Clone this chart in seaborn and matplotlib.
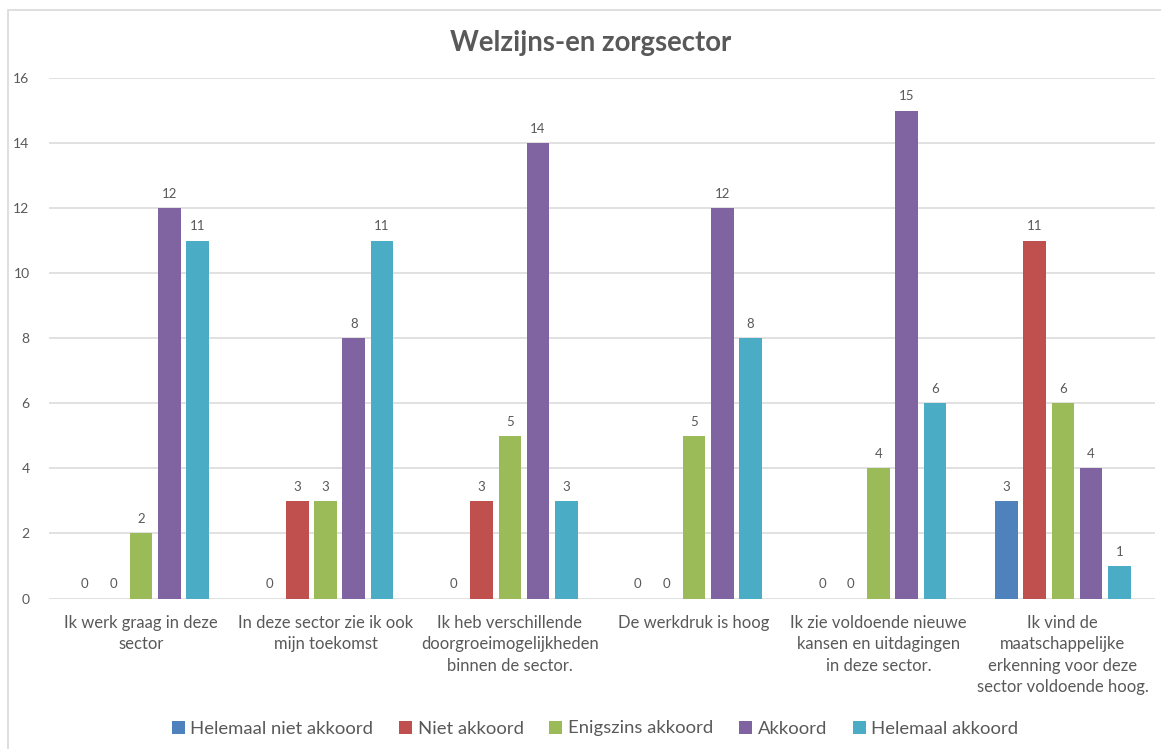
import matplotlib
matplotlib.use("Agg")
import matplotlib.pyplot as plt
import seaborn as sns
import pandas as pd
from matplotlib.patches import Rectangle

categories = [
    "Ik werk graag in deze sector",
    "In deze sector zie ik ook mijn toekomst",
    "Ik heb verschillende doorgroeimogelijkheden binnen de sector.",
    "De werkdruk is hoog",
    "Ik zie voldoende nieuwe kansen en uitdagingen in deze sector.",
    "Ik vind de maatschappelijke erkenning voor deze sector voldoende hoog.",
]
tick_labels = [
    "Ik werk graag in deze\nsector",
    "In deze sector zie ik ook\nmijn toekomst",
    "Ik heb verschillende\ndoorgroeimogelijkheden\nbinnen de sector.",
    "De werkdruk is hoog",
    "Ik zie voldoende nieuwe\nkansen en uitdagingen\nin deze sector.",
    "Ik vind de\nmaatschappelijke\nerkenning voor deze\nsector voldoende hoog.",
]
series_names = ["Helemaal niet akkoord", "Niet akkoord", "Enigszins akkoord",
                "Akkoord", "Helemaal akkoord"]
helemaal_niet_akkoord = [0, 0, 0, 0, 0, 3]
niet_akkoord = [0, 3, 3, 0, 0, 11]
enigszins_akkoord = [2, 3, 5, 5, 4, 6]
akkoord = [12, 8, 14, 12, 15, 4]
helemaal_akkoord = [11, 11, 3, 8, 6, 1]
y_ticks = [0, 2, 4, 6, 8, 10, 12, 14, 16]
title = "Welzijns-en zorgsector"

colors = ["#4F81BD", "#C0504D", "#9BBB59", "#8064A2", "#4BACC6"]

series_values = [helemaal_niet_akkoord, niet_akkoord, enigszins_akkoord,
                 akkoord, helemaal_akkoord]
rows = []
for name, vals in zip(series_names, series_values):
    for cat, v in zip(categories, vals):
        rows.append({"categorie": cat, "antwoord": name, "aantal": v})
df = pd.DataFrame(rows)

sns.set_theme(style="white")
plt.rcParams["font.family"] = ["Lato", "DejaVu Sans"]

W, H = 1161, 749
fig = plt.figure(figsize=(W / 100, H / 100), dpi=100)
ax = fig.add_axes([49 / W, 1 - 598.5 / H, (1155 - 49) / W, (598.5 - 78) / H])

sns.barplot(data=df, x="categorie", y="aantal", hue="antwoord",
            order=categories, hue_order=series_names, palette=colors,
            width=0.765, gap=0.2, ax=ax, legend=True, linewidth=0,
            saturation=1)

text_color = "#595959"
for cont in ax.containers:
    ax.bar_label(cont, fmt="%d", padding=6, fontsize=9.5, color=text_color)

ax.set_ylim(0, 16)
ax.set_yticks(y_ticks)
ax.set_xlim(-0.5, len(categories) - 0.5)
ax.grid(axis="y", color="#D9D9D9", linewidth=1.1)
ax.set_axisbelow(True)
for s in ax.spines.values():
    s.set_visible(False)
ax.tick_params(axis="both", length=0)
ax.tick_params(axis="y", pad=14, labelsize=10, labelcolor=text_color)
ax.tick_params(axis="x", pad=12, labelsize=12, labelcolor=text_color)
ax.set_xticks(range(len(categories)))
ax.set_xticklabels(tick_labels, linespacing=1.4)
ax.set_xlabel("")
ax.set_ylabel("")

fig.text(591 / W, 1 - 43 / H, title, ha="center", va="center",
         fontsize=19.8, fontweight="bold", color=text_color)

handles, labels = ax.get_legend_handles_labels()
ax.legend_.remove()
fig.legend(handles, labels, loc="center", bbox_to_anchor=(595 / W, 1 - 728.5 / H),
           ncol=5, frameon=False, fontsize=13.3, labelcolor=text_color,
           handlelength=0.7, handleheight=0.7, handletextpad=0.3,
           columnspacing=1.4)

fig.patches.append(Rectangle((7.5 / W, -0.1), 1.2, 1 - 9.5 / H + 0.1,
                             transform=fig.transFigure, fill=False,
                             edgecolor="#D9D9D9", linewidth=1.2))

fig.savefig("out.png", dpi=100, facecolor="white")
